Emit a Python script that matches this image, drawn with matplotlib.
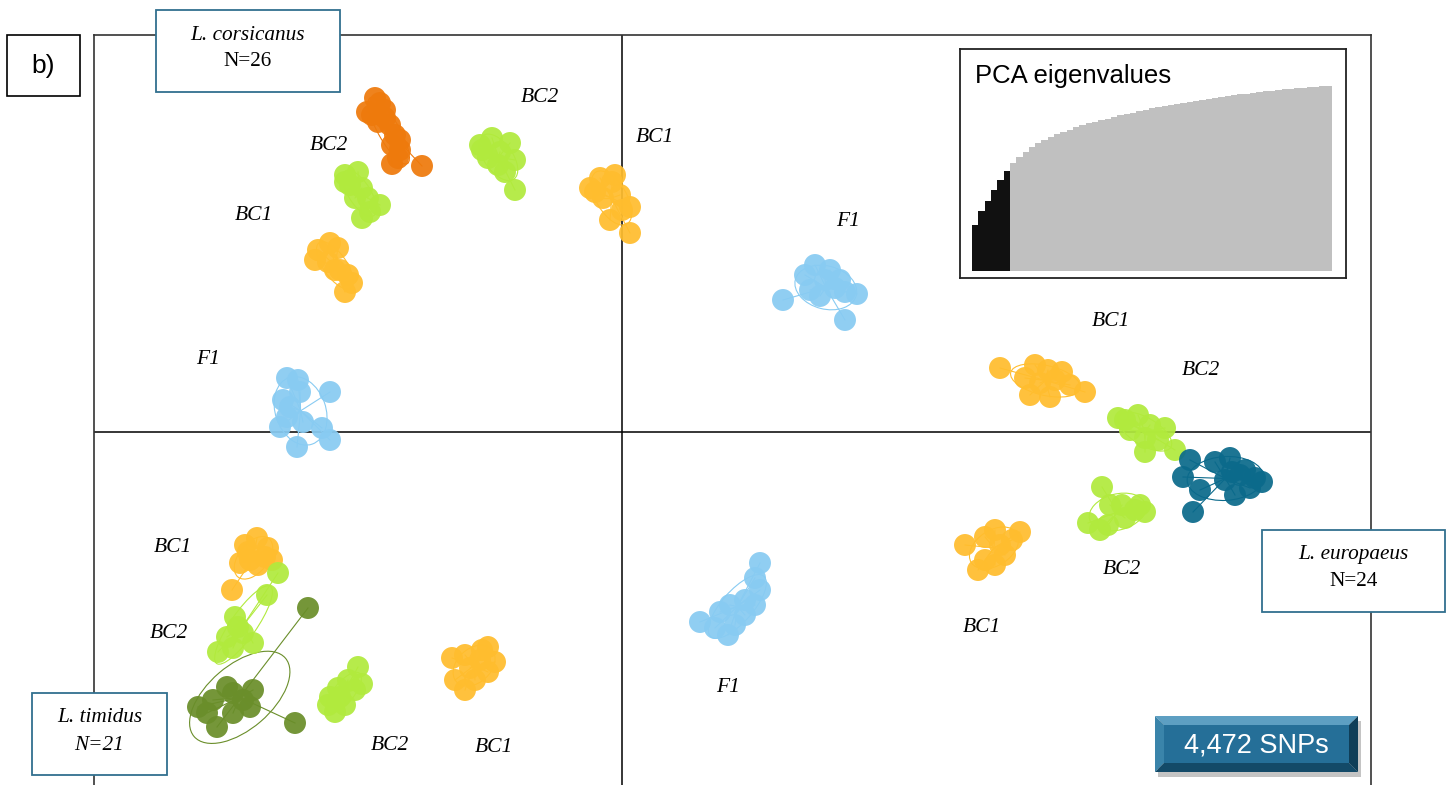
import matplotlib.pyplot as plt
import numpy as np
from matplotlib.patches import Rectangle, Polygon, Ellipse

plt.rcParams["font.family"] = ["Liberation Serif", "DejaVu Serif"]

W, H = 1452, 785

# colours of the six genetic groups
C_CORS = "#EE7A0C"
C_EUR = "#0B6A8B"
C_TIM = "#6A8E2A"
C_F1 = "#88CBF2"
C_BC1 = "#FFBD2E"
C_BC2 = "#B1EA3D"

# PCA scores (PC1, PC2) of every individual, one array pair per cluster
cors_x = [-2.47, -2.42, -2.50, -2.37, -2.32, -2.27, -2.30, -2.22, -2.24, -2.30, -2.00, -2.37, -2.44, -2.22, -2.55]
cors_y = [3.34, 3.29, 3.17, 3.14, 3.07, 2.97, 2.87, 2.82, 2.74, 2.68, 2.66, 3.22, 3.10, 2.92, 3.20]

bc2_cors_x = [-2.77, -2.64, -2.72, -2.60, -2.54, -2.67, -2.42, -2.52, -2.60, -2.77]
bc2_cors_y = [2.57, 2.60, 2.47, 2.44, 2.34, 2.34, 2.27, 2.20, 2.14, 2.50]

bc1_cors_x = [-3.04, -2.92, -2.84, -3.07, -2.94, -2.82, -2.74, -2.70, -2.77, -2.87]
bc1_cors_y = [1.82, 1.89, 1.84, 1.72, 1.70, 1.62, 1.57, 1.49, 1.40, 1.62]

bc2_top_x = [-1.42, -1.30, -1.12, -1.22, -1.34, -1.07, -1.17, -1.07, -1.40, -1.24]
bc2_top_y = [2.87, 2.94, 2.89, 2.80, 2.74, 2.72, 2.60, 2.42, 2.82, 2.67]

bc1_top_x = [-0.32, -0.22, -0.10, -0.19, -0.02, 0.08, -0.12, 0.08, -0.27, -0.07, 0.00]
bc1_top_y = [2.44, 2.54, 2.50, 2.34, 2.37, 2.25, 2.12, 1.99, 2.40, 2.57, 2.22]

f1_top_x = [1.61, 1.83, 1.93, 2.03, 2.13, 2.23, 2.35, 2.23, 1.88, 2.08, 1.98, 2.18]
f1_top_y = [1.32, 1.57, 1.67, 1.52, 1.44, 1.40, 1.38, 1.12, 1.42, 1.62, 1.36, 1.52]

f1_left_x = [-3.35, -3.24, -2.92, -3.39, -3.35, -3.42, -3.19, -3.00, -2.92, -3.25, -3.32, -3.22]
f1_left_y = [0.54, 0.52, 0.40, 0.32, 0.15, 0.05, 0.10, 0.04, -0.08, -0.15, 0.25, 0.40]

bc1_eur_x = [3.78, 4.13, 4.26, 4.18, 4.33, 4.48, 4.63, 4.08, 4.28, 4.40, 4.03]
bc1_eur_y = [0.64, 0.67, 0.62, 0.49, 0.52, 0.47, 0.40, 0.37, 0.35, 0.60, 0.54]

bc2_eur_x = [4.96, 5.16, 5.28, 5.43, 5.23, 5.08, 5.53, 5.23, 5.36, 5.03]
bc2_eur_y = [0.14, 0.17, 0.07, 0.04, -0.06, 0.02, -0.18, -0.20, -0.08, 0.12]

eur_x = [5.68, 5.61, 5.78, 5.71, 5.93, 6.08, 6.18, 6.28, 6.13, 6.40, 6.23, 6.03, 6.33, 6.10]
eur_y = [-0.28, -0.45, -0.58, -0.80, -0.30, -0.26, -0.43, -0.56, -0.63, -0.50, -0.38, -0.48, -0.46, -0.40]

bc2_eur2_x = [4.80, 4.88, 5.00, 5.13, 5.23, 4.66, 4.86, 5.03, 4.78, 5.18]
bc2_eur2_y = [-0.55, -0.73, -0.73, -0.78, -0.80, -0.91, -0.93, -0.86, -0.98, -0.73]

bc1_eur2_x = [3.43, 3.63, 3.73, 3.90, 3.98, 3.83, 3.63, 3.73, 3.56, 3.78]
bc1_eur2_y = [-1.13, -1.05, -0.98, -1.08, -1.00, -1.23, -1.28, -1.33, -1.38, -1.13]

f1_low_x = [1.38, 1.33, 1.38, 1.23, 1.08, 0.98, 0.78, 1.13, 1.23, 1.33, 0.93, 1.06]
f1_low_y = [-1.31, -1.46, -1.58, -1.68, -1.73, -1.80, -1.90, -1.93, -1.83, -1.73, -1.96, -2.03]

bc1_tim_x = [-3.77, -3.65, -3.54, -3.50, -3.72, -3.82, -3.64, -3.90, -3.57, -3.74]
bc1_tim_y = [-1.13, -1.06, -1.16, -1.28, -1.28, -1.31, -1.33, -1.58, -1.25, -1.20]

bc2_tim_x = [-3.44, -3.55, -3.87, -3.95, -3.79, -3.69, -4.04, -3.89, -3.84]
bc2_tim_y = [-1.41, -1.63, -1.85, -2.05, -2.01, -2.11, -2.20, -2.16, -1.95]

tim_x = [-3.14, -3.27, -4.24, -4.09, -3.89, -3.69, -3.72, -4.05, -3.89, -4.15, -3.95, -3.79]
tim_y = [-1.76, -2.91, -2.75, -2.68, -2.61, -2.58, -2.75, -2.95, -2.81, -2.81, -2.55, -2.68]

bc2_low_x = [-2.64, -2.74, -2.84, -2.92, -2.67, -2.77, -2.87, -2.82, -2.60, -2.94]
bc2_low_y = [-2.35, -2.48, -2.56, -2.65, -2.58, -2.73, -2.80, -2.65, -2.52, -2.73]

bc1_low_x = [-1.70, -1.57, -1.42, -1.34, -1.27, -1.47, -1.57, -1.34, -1.52, -1.67, -1.40]
bc1_low_y = [-2.26, -2.23, -2.28, -2.15, -2.30, -2.48, -2.58, -2.40, -2.36, -2.48, -2.18]

groups = [
    (cors_x, cors_y, C_CORS), (bc2_cors_x, bc2_cors_y, C_BC2), (bc1_cors_x, bc1_cors_y, C_BC1),
    (bc2_top_x, bc2_top_y, C_BC2), (bc1_top_x, bc1_top_y, C_BC1), (f1_top_x, f1_top_y, C_F1),
    (f1_left_x, f1_left_y, C_F1), (bc1_eur_x, bc1_eur_y, C_BC1), (bc2_eur_x, bc2_eur_y, C_BC2),
    (eur_x, eur_y, C_EUR), (bc2_eur2_x, bc2_eur2_y, C_BC2), (bc1_eur2_x, bc1_eur2_y, C_BC1),
    (f1_low_x, f1_low_y, C_F1), (bc1_tim_x, bc1_tim_y, C_BC1), (bc2_tim_x, bc2_tim_y, C_BC2),
    (tim_x, tim_y, C_TIM), (bc2_low_x, bc2_low_y, C_BC2), (bc1_low_x, bc1_low_y, C_BC1),
]

# cluster labels
label_text = ["BC2", "BC1", "BC2", "BC1", "F1", "F1", "BC1", "BC2", "BC1", "BC2",
              "BC2", "BC1", "F1", "BC2", "BC1"]
label_x = [-0.82, 0.33, -2.93, -3.68, 2.26, -4.14, 4.89, 5.79, -4.49, -4.53,
           5.00, 3.60, 1.06, -2.32, -1.28]
label_y = [3.35, 2.95, 2.86, 2.16, 2.11, 0.73, 1.11, 0.62, -1.15, -2.02,
           -1.38, -1.96, -2.56, -3.13, -3.15]

# screeplot of eigenvalues (first six retained)
eigenvalues = [46, 60, 70, 81, 91, 100, 108, 114, 119, 124, 128, 131, 134, 137, 139,
               141, 144, 146, 148, 149, 151, 152, 154, 156, 157, 158, 160, 161, 163,
               164, 165, 166, 167, 168, 169, 170, 171, 172, 173, 174, 175, 176, 177,
               177, 178, 179, 180, 180, 181, 182, 182, 183, 183, 184, 184, 185, 185]
n_retained = 6

fig = plt.figure(figsize=(W / 100, H / 100), dpi=100)

# main scatter panel (runs past the bottom edge)
ax = fig.add_axes([94 / W, 0, (1371 - 94) / W, (785 - 35) / H])
ax.set_xlim(-5.28, 7.49)
ax.set_ylim(-3.53, 3.97)
ax.set_xticks([])
ax.set_yticks([])
for side in ["left", "right", "top"]:
    ax.spines[side].set_color("#333333")
    ax.spines[side].set_linewidth(1.2)
ax.spines["bottom"].set_visible(False)
ax.axhline(0, color="black", lw=1.1, zorder=1)
ax.axvline(0, color="black", lw=1.1, zorder=1)

for gx, gy, col in groups:
    gx = np.asarray(gx)
    gy = np.asarray(gy)
    cx, cy = gx.mean(), gy.mean()
    for px, py in zip(gx, gy):
        ax.plot([cx, px], [cy, py], color=col, lw=0.8, zorder=2)
    cov = np.cov(gx, gy)
    vals, vecs = np.linalg.eigh(cov)
    ang = np.degrees(np.arctan2(vecs[1, 1], vecs[0, 1]))
    ax.add_patch(Ellipse((cx, cy), 2 * 1.5 * np.sqrt(vals[1]), 2 * 1.5 * np.sqrt(vals[0]),
                         angle=ang, fill=False, ec=col, lw=0.8, zorder=2))
    ax.scatter(gx, gy, s=250, color=col, alpha=0.93, edgecolors="none", zorder=3)

for t, lx, ly in zip(label_text, label_x, label_y):
    ax.text(lx, ly, t, style="italic", fontsize=15.5, ha="center", va="center", zorder=4)

# overlay in pixel coordinates for the boxes
ov = fig.add_axes([0, 0, 1, 1], zorder=5)
ov.set_xlim(0, W)
ov.set_ylim(H, 0)
ov.axis("off")
ov.patch.set_alpha(0)

ov.add_patch(Rectangle((7, 35), 73, 61, fc="white", ec="black", lw=1.2))
ov.text(43, 66, "b)", family="Liberation Sans", fontsize=19, ha="center", va="center")

box_ec = "#31708F"
species = [
    (156, 10, 184, 82, "L. corsicanus", "N=26", "normal"),
    (32, 693, 135, 82, "L. timidus", "N=21", "italic"),
    (1262, 530, 183, 82, "L. europaeus", "N=24", "normal"),
]
for bx, by, bw, bh, name, n, nstyle in species:
    ov.add_patch(Rectangle((bx, by), bw, bh, fc="white", ec=box_ec, lw=1.3))
    ov.text(bx + bw / 2, by + 25, name, style="italic", fontsize=15.3, ha="center", va="center")
    ov.text(bx + bw / 2, by + 52, n, style=nstyle, fontsize=15.3, ha="center", va="center")

# bevelled SNP count button
x0, y0, x1, y1, b = 1155, 716, 1358, 772, 9
ov.add_patch(Rectangle((x0 + 3, y0 + 5), x1 - x0, y1 - y0, fc="#8a8a8a", ec="none", alpha=0.5))
ov.add_patch(Polygon([(x0, y0), (x1, y0), (x1 - b, y0 + b), (x0 + b, y0 + b)], fc="#5D9FC2", ec="none"))
ov.add_patch(Polygon([(x0, y0), (x0 + b, y0 + b), (x0 + b, y1 - b), (x0, y1)], fc="#3A84AA", ec="none"))
ov.add_patch(Polygon([(x0, y1), (x0 + b, y1 - b), (x1 - b, y1 - b), (x1, y1)], fc="#134A68", ec="none"))
ov.add_patch(Polygon([(x1, y0), (x1, y1), (x1 - b, y1 - b), (x1 - b, y0 + b)], fc="#0F3E58", ec="none"))
ov.add_patch(Rectangle((x0 + b, y0 + b), x1 - x0 - 2 * b, y1 - y0 - 2 * b, fc="#256F98", ec="none"))
ov.text((x0 + x1) / 2, (y0 + y1) / 2 + 1, "4,472 SNPs", family="Liberation Sans",
        color="white", fontsize=19.5, ha="center", va="center")

# eigenvalue inset
ins = fig.add_axes([960 / W, 1 - 278 / H, 386 / W, 229 / H], zorder=6)
idx = np.arange(len(eigenvalues))
cols = ["#111111" if i < n_retained else "#C0C0C0" for i in idx]
ins.bar(idx, eigenvalues, width=1.0, color=cols, edgecolor="none")
ins.set_xlim(-2.4, 58.7)
ins.set_ylim(-7, 222)
ins.set_xticks([])
ins.set_yticks([])
for s in ins.spines.values():
    s.set_color("#222222")
    s.set_linewidth(1.3)
ins.text(0.04, 0.88, "PCA eigenvalues", transform=ins.transAxes, family="Liberation Sans",
         fontsize=18.5, ha="left", va="center")

fig.savefig("out.png", dpi=100)
